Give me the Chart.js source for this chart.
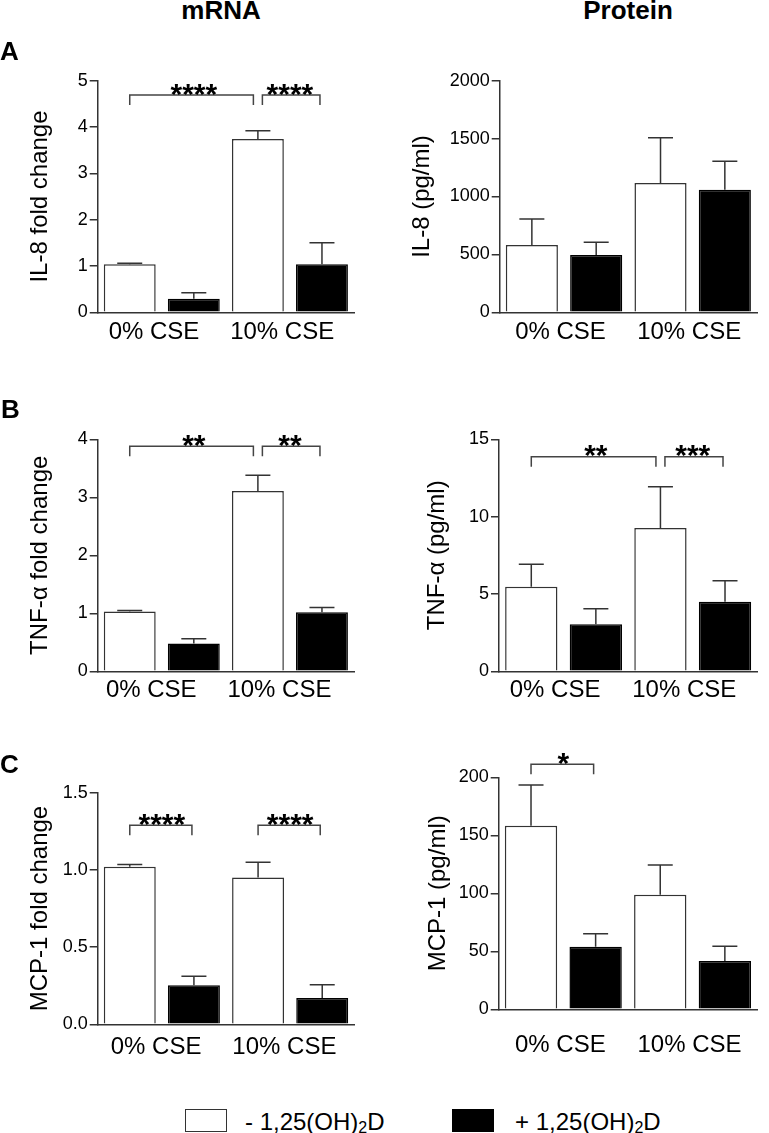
<!DOCTYPE html>
<html>
<head>
<meta charset="utf-8">
<script src="https://cdn.jsdelivr.net/npm/chart.js@4.4.1/dist/chart.umd.min.js"></script>
<style>
html,body{margin:0;padding:0;background:#fff;}
body{width:769px;height:1133px;position:relative;overflow:hidden;font-family:"Liberation Sans",Arial,Helvetica,sans-serif;color:#000;}
canvas{position:absolute;}
.t{position:absolute;line-height:1;white-space:nowrap;}
.b{font-weight:bold;}
.box{position:absolute;box-sizing:border-box;}
</style>
</head>
<body>
<canvas id="cA1"></canvas>
<canvas id="cA2"></canvas>
<canvas id="cB1"></canvas>
<canvas id="cB2"></canvas>
<canvas id="cC1"></canvas>
<canvas id="cC2"></canvas>

<div class="t b" style="font-size:26px;left:221px;top:-3px;transform:translateX(-50%);">mRNA</div>
<div class="t b" style="font-size:26px;left:628px;top:-3px;transform:translateX(-50%);">Protein</div>
<div class="t b" style="font-size:26px;left:0px;top:38px;">A</div>
<div class="t b" style="font-size:26px;left:1px;top:396px;">B</div>
<div class="t b" style="font-size:26px;left:0px;top:751px;">C</div>

<div class="box" style="left:185px;top:1109px;width:42px;height:23px;border:1.5px solid #333;background:#fff;"></div>
<div class="t" style="font-size:24px;left:245px;top:1110px;">- 1,25(OH)<span style="font-size:16px;vertical-align:-3px;">2</span>D</div>
<div class="box" style="left:452px;top:1109px;width:42px;height:23px;background:#000;"></div>
<div class="t" style="font-size:24px;left:515px;top:1110px;">+ 1,25(OH)<span style="font-size:16px;vertical-align:-3px;">2</span>D</div>

<script>
// ---------- data ----------
const groups = ['0% CSE', '10% CSE'];
const seriesNames = ['- 1,25(OH)2D', '+ 1,25(OH)2D'];

// A - IL-8 mRNA (fold change)
const il8mRNA_minus = [1.04, 3.74];
const il8mRNA_minusErr = [0.02, 0.18];
const il8mRNA_plus = [0.29, 1.04];
const il8mRNA_plusErr = [0.13, 0.46];
const il8mRNA_ticks = [0, 1, 2, 3, 4, 5];
const il8mRNA_sig = [[0, 2, 4.69, '****'], [2, 3, 4.69, '****']];

// A - IL-8 protein (pg/ml)
const il8Prot_minus = [581, 1117];
const il8Prot_minusErr = [225, 391];
const il8Prot_plus = [495, 1059];
const il8Prot_plusErr = [109, 245];
const il8Prot_ticks = [0, 500, 1000, 1500, 2000];
const il8Prot_sig = [];

// B - TNF-alpha mRNA (fold change)
const tnfmRNA_minus = [1.03, 3.11];
const tnfmRNA_minusErr = [0.02, 0.27];
const tnfmRNA_plus = [0.48, 1.02];
const tnfmRNA_plusErr = [0.08, 0.08];
const tnfmRNA_ticks = [0, 1, 2, 3, 4];
const tnfmRNA_sig = [[0, 2, 3.88, '**'], [2, 3, 3.88, '**']];

// B - TNF-alpha protein (pg/ml)
const tnfProt_minus = [5.47, 9.26];
const tnfProt_minusErr = [1.45, 2.67];
const tnfProt_plus = [3.04, 4.50];
const tnfProt_plusErr = [1.01, 1.36];
const tnfProt_ticks = [0, 5, 10, 15];
const tnfProt_sig = [[0, 2, 13.87, '**'], [2, 3, 13.87, '***']];

// C - MCP-1 mRNA (fold change)
const mcpmRNA_minus = [1.02, 0.95];
const mcpmRNA_minusErr = [0.015, 0.10];
const mcpmRNA_plus = [0.253, 0.170];
const mcpmRNA_plusErr = [0.058, 0.086];
const mcpmRNA_ticks = [0, 0.5, 1.0, 1.5];
const mcpmRNA_sig = [[0, 1, 1.289, '****'], [2, 3, 1.289, '****']];

// C - MCP-1 protein (pg/ml)
const mcpProt_minus = [158.3, 98.8];
const mcpProt_minusErr = [35.1, 25.6];
const mcpProt_plus = [54.0, 41.6];
const mcpProt_plusErr = [11.2, 12.7];
const mcpProt_ticks = [0, 50, 100, 150, 200];
const mcpProt_sig = [[0, 1, 211.2, '*']];

// ---------- rendering ----------
const FONT = '"Liberation Sans", Arial, Helvetica, sans-serif';
Chart.defaults.font.family = FONT;
Chart.defaults.color = '#000';

const overlayPlugin = {
  id: 'overlay',
  afterDatasetsDraw(chart, args, opts) {
    const ctx = chart.ctx, ys = chart.scales.y;
    const barX = k => chart.getDatasetMeta(k % 2).data[Math.floor(k / 2)].x;
    ctx.save();
    ctx.strokeStyle = '#333';
    ctx.lineWidth = 1.5;
    chart.data.datasets.forEach((ds, di) => {
      chart.getDatasetMeta(di).data.forEach((bar, ci) => {
        const v = ds.data[ci];
        const y0 = ys.getPixelForValue(v);
        const y1 = ys.getPixelForValue(v + opts.errors[di][ci]);
        ctx.beginPath();
        ctx.moveTo(bar.x, y0); ctx.lineTo(bar.x, y1);
        ctx.moveTo(bar.x - 12.5, y1); ctx.lineTo(bar.x + 12.5, y1);
        ctx.stroke();
      });
    });
    const sig = opts.sig || [];
    ctx.strokeStyle = '#444';
    ctx.lineWidth = 1.5;
    ctx.fillStyle = '#000';
    ctx.font = 'bold 30px ' + FONT;
    ctx.textAlign = 'center';
    ctx.textBaseline = 'alphabetic';
    sig.forEach(([a, b, v, txt]) => {
      const sharedL = sig.some(s => s[1] === a);
      const sharedR = sig.some(s => s[0] === b);
      const xl = barX(a) + (sharedL ? 4.5 : 0);
      const xr = barX(b) - (sharedR ? 4.5 : 2);
      const y = ys.getPixelForValue(v);
      ctx.beginPath();
      ctx.moveTo(xl, y + 10); ctx.lineTo(xl, y); ctx.lineTo(xr, y); ctx.lineTo(xr, y + 10);
      ctx.stroke();
      ctx.fillText(txt, (barX(a) + barX(b)) / 2, y + 8.5);
    });
    ctx.restore();
  }
};

function makePanel(p) {
  const cv = document.getElementById(p.id);
  const [bl, bt, bw, bh] = p.box;
  const [al, at, ar, ab] = p.area;
  cv.width = bw; cv.height = bh;
  cv.style.left = bl + 'px'; cv.style.top = bt + 'px';
  cv.style.width = bw + 'px'; cv.style.height = bh + 'px';
  const yWidth = al - bl;
  const xHeight = bt + bh - ab;
  const titleSize = 24;
  const titlePad = p.titleX - bl - titleSize * 1.2 / 2;
  const ticks = p.ticks;
  new Chart(cv, {
    type: 'bar',
    data: {
      labels: groups,
      datasets: [
        { label: seriesNames[0], data: p.minus, backgroundColor: '#fff', borderColor: '#333',
          borderWidth: 1.5, barPercentage: 0.81, categoryPercentage: 1.0 },
        { label: seriesNames[1], data: p.plus, backgroundColor: '#000', borderColor: '#000',
          borderWidth: 1.5, barPercentage: 0.81, categoryPercentage: 1.0 }
      ]
    },
    options: {
      responsive: false,
      animation: false,
      devicePixelRatio: 1,
      layout: { padding: { top: at - bt, right: bl + bw - ar, bottom: 0, left: 0 } },
      plugins: {
        legend: { display: false },
        tooltip: { enabled: false },
        overlay: { errors: [p.minusErr, p.plusErr], sig: p.sig }
      },
      scales: {
        x: {
          offset: true,
          grid: { display: true, drawOnChartArea: false, drawTicks: false },
          border: { color: '#333', width: 1.5 },
          ticks: { font: { size: 24 }, color: '#000', padding: p.labelPad, labelOffset: p.labelShift, maxRotation: 0 },
          afterFit(s) { s.height = xHeight; }
        },
        y: {
          min: ticks[0],
          max: ticks[ticks.length - 1],
          afterBuildTicks(s) { s.ticks = ticks.map(v => ({ value: v })); },
          grid: { drawOnChartArea: false, drawTicks: true, tickLength: 8, color: '#333', lineWidth: 1.5 },
          border: { color: '#333', width: 1.5 },
          ticks: {
            font: { size: 18 }, color: '#000', padding: 2,
            callback: v => p.dec ? Number(v).toFixed(p.dec) : String(v)
          },
          title: { display: true, text: p.title, font: { size: titleSize }, color: '#000',
                   padding: { top: titlePad, bottom: 0 } },
          afterFit(s) { s.width = yWidth; }
        }
      }
    },
    plugins: [overlayPlugin]
  });
}

const panels = [
  { id: 'cA1', box: [0, 30, 380, 330], area: [97.7, 80.7, 354, 312.3], title: 'IL-8 fold change', titleX: 40.5,
    ticks: il8mRNA_ticks, dec: 0, minus: il8mRNA_minus, minusErr: il8mRNA_minusErr, plus: il8mRNA_plus, plusErr: il8mRNA_plusErr,
    sig: il8mRNA_sig, labelPad: 5.5, labelShift: -7.75 },
  { id: 'cA2', box: [384, 30, 385, 330], area: [499.7, 80.7, 757, 312.3], title: 'IL-8 (pg/ml)', titleX: 422.5,
    ticks: il8Prot_ticks, dec: 0, minus: il8Prot_minus, minusErr: il8Prot_minusErr, plus: il8Prot_plus, plusErr: il8Prot_plusErr,
    sig: il8Prot_sig, labelPad: 5.5, labelShift: -3.5 },
  { id: 'cB1', box: [0, 380, 380, 340], area: [97.7, 439.3, 354, 671.3], title: 'TNF-α fold change', titleX: 40.5,
    ticks: tnfmRNA_ticks, dec: 0, minus: tnfmRNA_minus, minusErr: tnfmRNA_minusErr, plus: tnfmRNA_plus, plusErr: tnfmRNA_plusErr,
    sig: tnfmRNA_sig, labelPad: 5, labelShift: -10.5 },
  { id: 'cB2', box: [384, 380, 385, 340], area: [499, 439.3, 757.3, 671.3], title: 'TNF-α (pg/ml)', titleX: 437,
    ticks: tnfProt_ticks, dec: 0, minus: tnfProt_minus, minusErr: tnfProt_minusErr, plus: tnfProt_plus, plusErr: tnfProt_plusErr,
    sig: tnfProt_sig, labelPad: 5, labelShift: -8.5 },
  { id: 'cC1', box: [0, 730, 380, 340], area: [97.7, 792.7, 354.3, 1024.3], title: 'MCP-1 fold change', titleX: 40.5,
    ticks: mcpmRNA_ticks, dec: 1, minus: mcpmRNA_minus, minusErr: mcpmRNA_minusErr, plus: mcpmRNA_plus, plusErr: mcpmRNA_plusErr,
    sig: mcpmRNA_sig, labelPad: 8.5, labelShift: -5.75 },
  { id: 'cC2', box: [384, 730, 385, 340], area: [498.7, 777.3, 757.3, 1009.3], title: 'MCP-1 (pg/ml)', titleX: 438,
    ticks: mcpProt_ticks, dec: 0, minus: mcpProt_minus, minusErr: mcpProt_minusErr, plus: mcpProt_plus, plusErr: mcpProt_plusErr,
    sig: mcpProt_sig, labelPad: 21.5, labelShift: -3 }
];

panels.forEach(makePanel);
</script>
</body>
</html>
